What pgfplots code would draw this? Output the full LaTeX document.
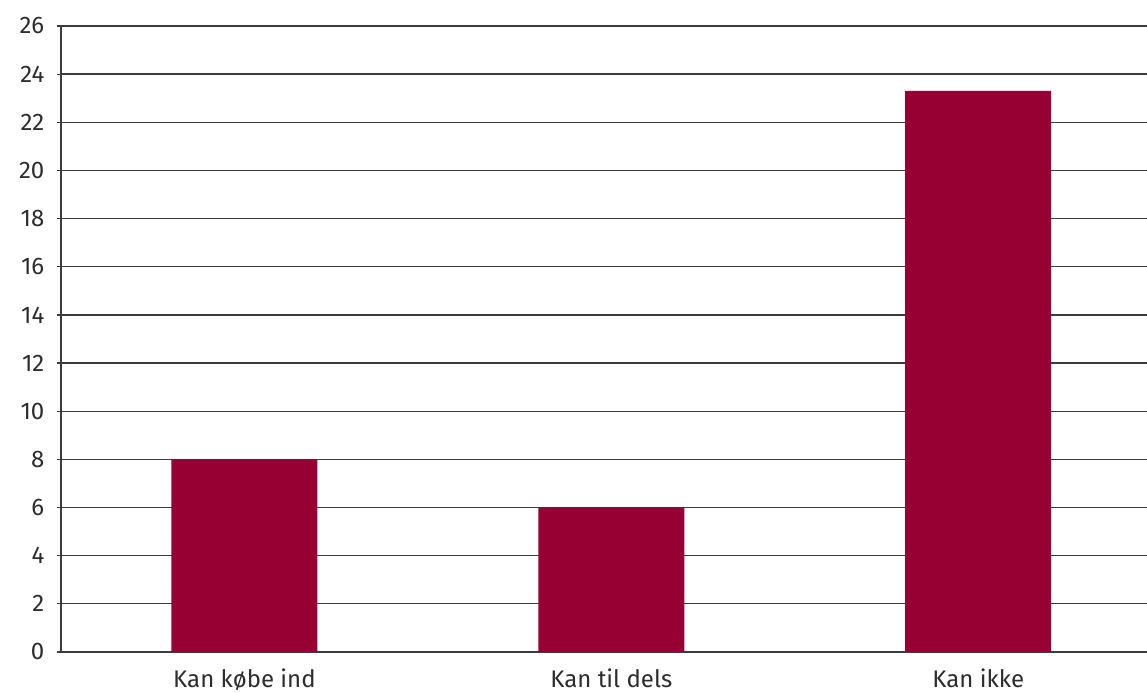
\documentclass[border=0pt]{standalone}
\usepackage{pgfplots}
\pgfplotsset{compat=1.18}
\usepackage{fontspec}
\setmainfont{Fira Sans}
\usetikzlibrary{calc}
\definecolor{barred}{RGB}{150,0,50}
\definecolor{gridc}{RGB}{60,60,60}
\definecolor{txt}{RGB}{45,45,45}
\begin{document}
\begin{tikzpicture}[x=1pt,y=1pt]
\begin{axis}[
  name=ax,
  scale only axis,
  width=814.5pt, height=469.5pt,
  xmin=-0.5, xmax=2.46,
  ymin=0, ymax=26,
  ytick={0,2,...,26},
  xtick={0,1,2},
  xticklabels={Kan købe ind, Kan til dels, Kan ikke},
  extra x ticks={-0.5,0.5,1.5},
  extra x tick labels={},
  extra x tick style={major tick length=6pt, tick style={gridc, line width=0.9pt}, grid=none},
  x tick style={draw=none},
  tick align=outside,
  y tick style={gridc, line width=0.9pt},
  major tick length=6pt,
  ymajorgrids,
  grid style={gridc, line width=1pt},
  axis x line=bottom,
  axis y line=left,
  axis line style={gridc, line width=0.9pt, -},
  /pgf/number format/assume math mode=true,
  yticklabel style={font=\fontsize{18}{20}\selectfont, text=txt, xshift=-6pt},
  xticklabel style={font=\fontsize{18}{20}\selectfont, text=txt, yshift=-3pt},
  ybar,
  bar width=109.5pt,
  clip=false,
]
\addplot[fill=barred, draw=none] coordinates {(0,8) (1,6) (2,23.3)};
\end{axis}
\pgfresetboundingbox
\path ($(ax.south west)+(-45.75pt,-30.75pt)$) rectangle ($(ax.north east)+(0pt,19.5pt)$);
\end{tikzpicture}
\end{document}
